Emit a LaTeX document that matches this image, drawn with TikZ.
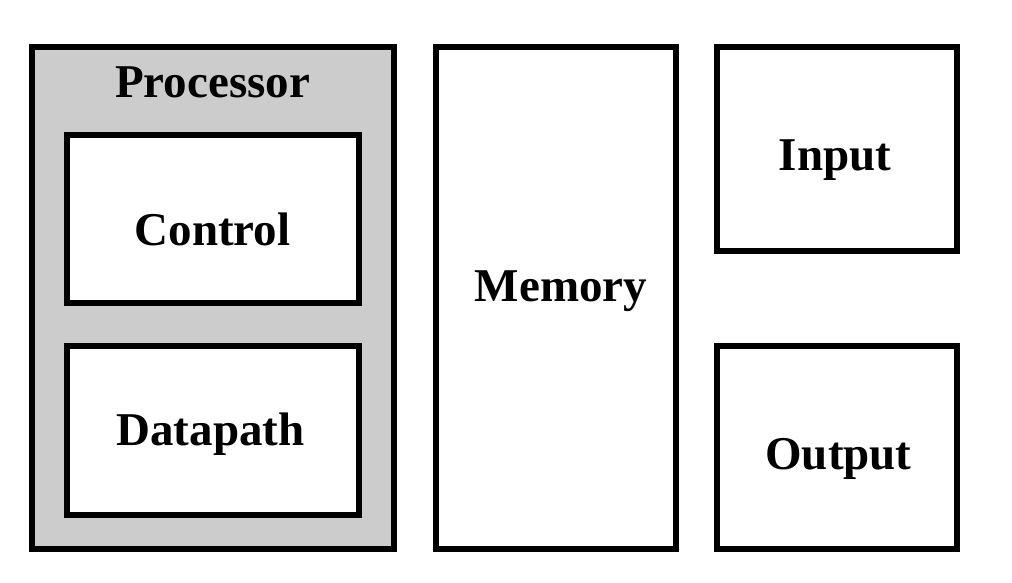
\documentclass[tikz,border=0pt]{standalone}
\usepackage{fontspec}
\setmainfont{Liberation Serif}
\definecolor{procgray}{RGB}{204,204,204}
\tikzset{
	box/.style={draw=black, line width=5.5pt, fill=white, inner sep=0pt, outer sep=0pt},
	lbl/.style={anchor=base, inner sep=0pt, font=\fontsize{47}{51}\selectfont\bfseries}
}
\begin{document}
\begin{tikzpicture}[x=1pt, y=-1pt]
		\useasboundingbox (0,0) rectangle (1012,582);
		% processor with its two parts
		\node [box, fill=procgray, minimum width=362pt, minimum height=502pt] (proc) at (213,298) {};
		\node [box, minimum width=292pt, minimum height=168pt] (control) at (213,219) {};
		\node [box, minimum width=292pt, minimum height=169pt] (datapath) at (213,430.5) {};
		% memory and the i/o boxes
		\node [box, minimum width=240pt, minimum height=502pt] (memory) at (556,298) {};
		\node [box, minimum width=240pt, minimum height=204pt] (input) at (837,149) {};
		\node [box, minimum width=240pt, minimum height=203pt] (output) at (837,447.5) {};
		
		\node [lbl] (proctxt) at (212.5,97) {Processor};
		\node [lbl] (controltxt) at (212.5,245) {Control};
		\node [lbl] (datapathtxt) at (210.5,445) {Datapath};
		\node [lbl] (memorytxt) at (561,301) {Memory};
		\node [lbl] (inputtxt) at (835,170) {Input};
		\node [lbl] (outputtxt) at (838.5,469) {Output};
	\end{tikzpicture}
\end{document}
